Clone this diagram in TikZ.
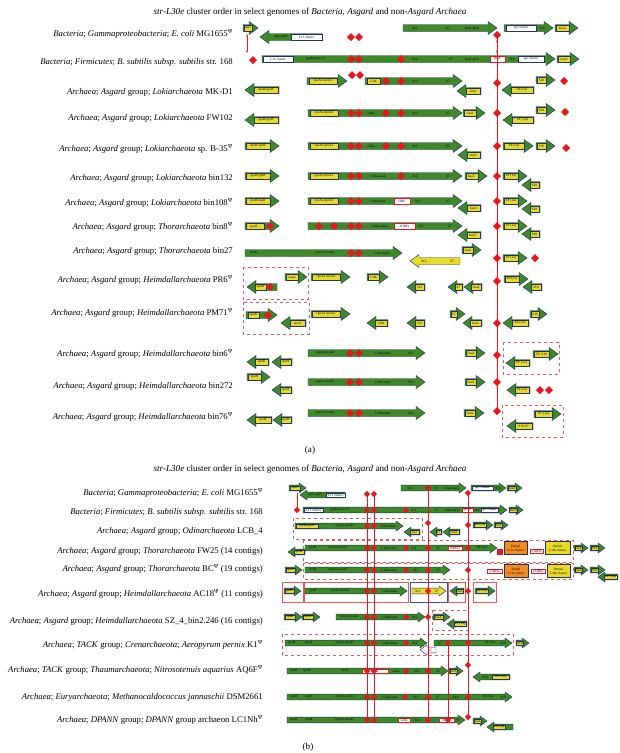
\documentclass[tikz,border=0pt]{standalone}
\usepackage{fontspec}
\setmainfont{Liberation Serif}
\usetikzlibrary{arrows.meta}
\definecolor{gg}{RGB}{62,138,38}
\definecolor{gedge}{RGB}{32,52,92}
\definecolor{gyel}{RGB}{232,218,40}
\definecolor{gred}{RGB}{232,22,30}
\definecolor{gdash}{RGB}{228,90,90}
\definecolor{gorange}{RGB}{242,140,30}
\definecolor{gblue}{RGB}{60,80,170}
\newcounter{nn}
\def\gbh{3.5}\def\ghh{6.5}\def\ghl{9}\def\gdd{4}\def\glh{5.5pt}
\newcommand\arR[4]{\filldraw[gene,fill=#4] (#1,#3-\gbh) -- (#2-\ghl,#3-\gbh) -- (#2-\ghl,#3-\ghh) -- (#2,#3) -- (#2-\ghl,#3+\ghh) -- (#2-\ghl,#3+\gbh) -- (#1,#3+\gbh) -- cycle;}
\newcommand\arL[4]{\filldraw[gene,fill=#4] (#2,#3-\gbh) -- (#1+\ghl,#3-\gbh) -- (#1+\ghl,#3-\ghh) -- (#1,#3) -- (#1+\ghl,#3+\ghh) -- (#1+\ghl,#3+\gbh) -- (#2,#3+\gbh) -- cycle;}
\newcommand\gyl[5][ylab]{\stepcounter{nn}\node[#1, minimum width={#3-#2}, minimum height=\glh] (t\arabic{nn}) at ({(#2+#3)/2},#4) {#5};}
\newcommand\gtx[3]{\stepcounter{nn}\node[glab] (t\arabic{nn}) at (#1,#2) {#3};}
\newcommand\gdm[2]{\fill[gred] (#1,#2-\gdd) -- (#1+\gdd,#2) -- (#1,#2+\gdd) -- (#1-\gdd,#2) -- cycle;}
\newcommand\gdb[4]{\draw[dbox] (#1,#2) rectangle (#3,#4);}
\newcommand\rowl[3]{\node[rowlab] (#1) at (\rx,#2) {#3};}
\newcommand\psimark{\textsuperscript{Ψ}}
\tikzset{
 gene/.style={draw=gedge,line width=0.45pt},
 glab/.style={font=\fontsize{3.4}{3.7}\selectfont, inner sep=0.3pt},
 ylab/.style={glab, fill=gyel, draw=gedge, line width=0.25pt},
 wlab/.style={glab, fill=white, draw=gedge, line width=0.25pt},
 rlab/.style={glab, fill=white, draw=gred, line width=0.5pt},
 olab/.style={glab, fill=gorange, draw=gedge, line width=0.25pt, align=center},
 y2lab/.style={glab, fill=gyel, draw=gedge, line width=0.25pt, align=center},
 rowlab/.style={anchor=east, font=\fontsize{8.7}{9.5}\selectfont, inner sep=0pt},
 ttl/.style={font=\fontsize{9.1}{10}\selectfont, inner sep=0pt},
 dbox/.style={draw=gdash, dashed, line width=0.7pt},
 sbox/.style={draw=gdash, line width=0.7pt},
 bbox/.style={draw=gblue, line width=0.7pt},
 redl/.style={draw=gred, line width=0.8pt},
 redt/.style={draw=gred, line width=0.7pt, {Stealth[length=2.5pt]}-{Stealth[length=2.5pt]}},
}
\begin{document}
\begin{tikzpicture}[x=1pt,y=-1pt]
\fill[white] (0,0) rectangle (620,753);
\useasboundingbox (0,0) rectangle (620,753);
% ================= PANEL A =================
\node[ttl] (titleA) at (310,12) {\textit{str-L30e} cluster order in select genomes of \textit{Bacteria, Asgard} and non-\textit{Asgard Archaea}};
\def\rx{233}
\rowl{a1}{34}{\textit{Bacteria}; \textit{Gammaproteobacteria}; \textit{E. coli} MG1655\psimark}
\rowl{a2}{62}{\textit{Bacteria}; \textit{Firmicutes}; \textit{B. subtilis subsp. subtilis} str. 168}
\rowl{a3}{92}{\textit{Archaea}; \textit{Asgard} group; \textit{Lokiarchaeota} MK-D1}
\rowl{a4}{118}{\textit{Archaea}; \textit{Asgard} group; \textit{Lokiarchaeota} FW102}
\rowl{a5}{149}{\textit{Archaea}; \textit{Asgard} group; \textit{Lokiarchaeota} sp. B-35\psimark}
\rowl{a6}{178}{\textit{Archaea}; \textit{Asgard} group; \textit{Lokiarchaeota} bin132}
\rowl{a7}{203}{\textit{Archaea}; \textit{Asgard} group; \textit{Lokiarchaeota} bin108\psimark}
\rowl{a8}{227}{\textit{Archaea}; \textit{Asgard} group; \textit{Thorarchaeota} bin8\psimark}
\rowl{a9}{251}{\textit{Archaea}; \textit{Asgard} group; \textit{Thorarchaeota} bin27}
\rowl{a10}{280}{\textit{Archaea}; \textit{Asgard} group; \textit{Heimdallarchaeota} PR6\psimark}
\rowl{a11}{313}{\textit{Archaea}; \textit{Asgard} group; \textit{Heimdallarchaeota} PM71\psimark}
\rowl{a12}{354}{\textit{Archaea}; \textit{Asgard} group; \textit{Heimdallarchaeota} bin6\psimark}
\rowl{a13}{386}{\textit{Archaea}; \textit{Asgard} group; \textit{Heimdallarchaeota} bin272}
\rowl{a14}{417}{\textit{Archaea}; \textit{Asgard} group; \textit{Heimdallarchaeota} bin76\psimark}
% dashed boxes
\gdb{243}{267}{308}{299}
\gdb{243}{302}{309}{334}
\gdb{503}{342}{559}{374}
\gdb{502}{405}{563}{437}
% row 1
\arR{243}{258}{28}{gg}\gyl{244}{252}{28}{rpsJ}
\arL{260}{322}{37}{gg}\gtx{281}{37}{rplC-rplB}\gyl[wlab]{291}{322}{37}{L11 cluster}
\arR{403}{497}{28}{gg}\gtx{415}{28}{S12}\gtx{448}{28}{S7}\gtx{472}{28}{fusA-tufA}
\arR{504}{553}{28}{gg}\gyl[wlab]{506}{536}{28}{spc cluster}\gtx{542}{28}{S10}
\arR{555}{578}{28}{gg}\gyl{556}{569}{28}{nusA}
% row 2
\arR{262}{555}{59}{gg}\gyl[wlab]{263}{293}{59}{L11 cluster}\gtx{316}{59}{rpoB-rpoC-L7}
\gtx{415}{59}{S12}\gtx{451}{59}{S7}\gtx{472}{59}{fusA-tufA}\gyl[rlab]{490}{505}{59}{ybxF}
\gtx{512}{59}{S10}\gyl[wlab]{518}{544}{59}{spc cluster}
\arR{557}{579}{59}{gg}\gyl{558}{570}{59}{nusA}
% row 3
\arL{245}{279}{90}{gg}\gyl{254}{278}{90}{rpoB-rpoH}
\arR{307}{347}{81}{gg}\gyl{309}{337}{81}{rpoA1-rpoA2}
\arR{365}{462}{81}{gg}\gyl{367}{380}{81}{L30e}\gtx{415}{81}{S12}\gtx{448}{81}{S7}
\arL{457}{481}{91}{gg}\gyl{466}{480}{91}{fusA}
\arL{502}{534}{90}{gg}\gyl{511}{533}{90}{EF (1a)}
\arR{536}{555}{80}{gg}\gyl{537}{546}{80}{S10}
% row 4
\arL{245}{279}{120}{gg}\gyl{254}{278}{120}{rpoB-rpoH}
\arR{308}{462}{113}{gg}\gyl{310}{338}{113}{rpoA1-rpoA2}\gtx{371}{113}{L30e}\gtx{415}{113}{S12}\gtx{448}{113}{S7}
\arR{463}{485}{113}{gg}\gyl{464}{476}{113}{fusA}
\arL{503}{534}{120}{gg}\gyl{512}{533}{120}{EF (1a)}
\arR{536}{555}{110}{gg}\gyl{537}{546}{110}{S10}
% row 5
\arR{245}{279}{146}{gg}\gyl{246}{270}{146}{rpoH-rpoB}
\arR{308}{462}{146}{gg}\gyl{310}{338}{146}{rpoA1-rpoA2}\gtx{371}{146}{L30e}\gtx{415}{146}{S12}\gtx{448}{146}{S7}
\arL{458}{481}{155}{gg}\gyl{467}{480}{155}{fusA}
\arR{503}{533}{146}{gg}\gyl{504}{524}{146}{EF (1a)}
\arR{536}{555}{146}{gg}\gyl{537}{546}{146}{S10}
% row 6
\arR{245}{279}{176}{gg}\gyl{246}{270}{176}{rpoH-rpoB}
\arR{308}{462}{176}{gg}\gyl{310}{338}{176}{rpoA1-rpoA2}\gtx{378}{176}{L30e-nusA}\gtx{415}{176}{S12}\gtx{448}{176}{S7}
\arR{465}{487}{176}{gg}\gyl{466}{478}{176}{fusA\textsuperscript{*}}
\arR{503}{527}{176}{gg}\gyl{504}{518}{176}{EF (1a)}
\arL{522}{540}{185}{gg}\gyl{530}{539}{185}{S10}
% row 7
\arR{245}{279}{201}{gg}\gyl{246}{270}{201}{rpoH-rpoB}
\arR{308}{462}{201}{gg}\gyl{310}{338}{201}{rpoA1-rpoA2}\gtx{378}{201}{L30e-nusA}\gyl[rlab]{394}{410}{201}{ORF}\gtx{418}{201}{S12}\gtx{448}{201}{S7}
\arL{458}{481}{208}{gg}\gyl{467}{480}{208}{fusA}
\arR{503}{527}{201}{gg}\gyl{504}{518}{201}{EF (1a)}
\arL{522}{540}{209}{gg}\gyl{530}{539}{209}{S10}
% row 8
\arR{245}{279}{226}{gg}\gyl{246}{264}{226}{rpoH\textsuperscript{*}-}
\arR{308}{462}{226}{gg}\gtx{380}{226}{L30e-nusA}\gyl[rlab]{394}{415}{226}{2ORFs}\gtx{421}{226}{S12}\gtx{450}{226}{S7}
\arL{458}{481}{235}{gg}\gyl{467}{480}{235}{fusA\textsuperscript{β}}
\arR{503}{527}{226}{gg}\gyl{504}{518}{226}{EF (1a)}
\arL{522}{540}{234}{gg}\gyl{530}{539}{234}{S10}
% row 9
\arR{245}{402}{253}{gg}\gtx{254}{253}{rpoB-}\gtx{325}{253}{rpoA1-rpoA2}\gtx{382}{253}{L30e-nusA}
\arL{410}{460}{261}{gyel}\gtx{424}{261}{S12}\gtx{452}{261}{S7}
\arR{462}{481}{250}{gg}\gyl{463}{473}{250}{fusA}
\arR{503}{527}{258}{gg}\gyl{504}{518}{258}{EF (1a)}
% row 10
\arR{285}{307}{277}{gg}\gyl{286}{298}{277}{nusA}
\arL{247}{277}{287}{gg}\gyl{255}{266}{287}{rpoB}
\arR{311}{350}{277}{gg}\gyl{312}{340}{277}{rpoA1-rpoA2}
\arR{367}{388}{277}{gg}\gyl{368}{379}{277}{L30e}
\arL{407}{425}{287}{gg}\gyl{415}{424}{287}{S12}
\arL{448}{463}{287}{gg}\gyl{455}{462}{287}{S7}
\arL{464}{482}{287}{gg}\gyl{471}{481}{287}{fusA}
\arR{504}{528}{279}{gg}\gyl{505}{519}{279}{EF (1a)}
\arL{523}{542}{287}{gg}\gyl{531}{541}{287}{S10}
% row 11
\arR{246}{277}{315}{gg}\gyl{248}{259}{315}{rpoB}
\arL{281}{306}{323}{gg}\gyl{290}{305}{323}{nusA}
\arR{311}{350}{314}{gg}\gyl{312}{340}{314}{rpoA1-rpoA2}
\arL{367}{388}{323}{gg}\gyl{375}{387}{323}{L30e}
\arL{407}{425}{323}{gg}\gyl{415}{424}{323}{S12}
\arR{450}{465}{314}{gg}\gyl{451}{457}{314}{S7}
\arL{463}{482}{323}{gg}\gyl{470}{481}{323}{fusA}
\arL{503}{529}{323}{gg}\gyl{512}{528}{323}{EF (1a)}
\arR{530}{547}{314}{gg}\gyl{531}{539}{314}{S10}
% row 12
\arL{247}{269}{362}{gg}\gyl{255}{268}{362}{rpoB}
\arL{272}{292}{362}{gg}\gyl{280}{291}{362}{rpoH}
\arR{308}{425}{353}{gg}\gtx{325}{353}{rpoA1-rpoA2}\gtx{383}{353}{L30e-nusA}\gtx{411}{353}{S12}
\arR{465}{485}{353}{gg}\gyl{466}{476}{353}{fusA}
\arL{506}{530}{363}{gg}\gyl{514}{529}{363}{EF (1a)}
\arR{533}{558}{354}{gg}\gyl{534}{549}{354}{EF-S10}
% row 13
\arR{247}{270}{377}{gg}\gyl{248}{261}{377}{rpoB}
\arL{272}{292}{390}{gg}\gyl{280}{291}{390}{rpoH}
\arR{308}{425}{382}{gg}\gtx{325}{382}{rpoA1-rpoA2}\gtx{383}{382}{L30e-nusA}\gtx{411}{382}{S12}
\arR{465}{485}{382}{gg}\gyl{466}{476}{382}{fusA}
\arL{507}{530}{390}{gg}\gyl{515}{529}{390}{EF (1a)}
% row 14
\arL{247}{272}{420}{gg}\gyl{255}{271}{420}{rpoB}
\arL{273}{292}{420}{gg}\gyl{281}{291}{420}{rpoH}
\arR{308}{425}{413}{gg}\gtx{325}{413}{rpoA1-rpoA2}\gtx{383}{413}{L30e-nusA}\gtx{411}{413}{S12}
\arR{464}{484}{413}{gg}\gyl{465}{475}{413}{fusA}
\arR{534}{561}{414}{gg}\gyl{535}{552}{414}{EF (1a)}
\arL{507}{533}{426}{gg}\gyl{515}{532}{426}{S10-S7}
% red lines panel A
\coordinate (ra) at (497,35); \coordinate (rb) at (497,411);
\draw[redl] (ra) -- (rb);
\coordinate (rta) at (497,40); \coordinate (rtb) at (497,53);
\draw[redt] (rta) -- (rtb);
\coordinate (rla) at (247,34); \coordinate (rlb) at (247,53);
\draw[redt] (rla) -- (rlb);
% diamonds panel A
\gdm{351}{37}\gdm{359}{37}\gdm{497}{35}
\gdm{253}{60}\gdm{351}{59}\gdm{359}{59}\gdm{401}{59}
\gdm{352}{75}\gdm{360}{75}\gdm{386}{81}\gdm{401}{81}\gdm{497}{83}\gdm{564}{81}
\gdm{351}{113}\gdm{359}{113}\gdm{386}{113}\gdm{401}{113}\gdm{497}{113}\gdm{565}{112}
\gdm{351}{146}\gdm{359}{146}\gdm{386}{146}\gdm{401}{146}\gdm{497}{146}\gdm{566}{148}
\gdm{351}{176}\gdm{359}{176}\gdm{401}{176}\gdm{497}{176}
\gdm{351}{201}\gdm{359}{201}\gdm{497}{201}
\gdm{270}{226}\gdm{319}{226}\gdm{334}{226}\gdm{351}{226}\gdm{359}{226}\gdm{497}{226}
\gdm{351}{253}\gdm{359}{253}\gdm{497}{258}\gdm{535}{258}
\gdm{270}{287}\gdm{497}{281}
\gdm{268}{315}\gdm{497}{323}
\gdm{350}{353}\gdm{359}{353}\gdm{497}{355}
\gdm{350}{382}\gdm{359}{382}\gdm{497}{382}\gdm{540}{390}\gdm{549}{390}
\gdm{350}{413}\gdm{359}{413}\gdm{497}{411}
\node[ttl] (capA) at (310,450) {(a)};
% ================= PANEL B =================
\def\gbh{2.8}\def\ghh{5}\def\ghl{7}\def\gdd{3.2}\def\glh{4.2pt}
\node[ttl] (titleB) at (310,469) {\textit{str-L30e} cluster order in select genomes of \textit{Bacteria, Asgard} and non-\textit{Asgard Archaea}};
\def\rx{263}
\rowl{b1}{493}{\textit{Bacteria}; \textit{Gammaproteobacteria}; \textit{E. coli} MG1655\psimark}
\rowl{b2}{512}{\textit{Bacteria}; \textit{Firmicutes}; \textit{B. subtilis subsp. subtilis} str. 168}
\rowl{b3}{531}{\textit{Archaea}; \textit{Asgard} group; \textit{Odinarchaeota} LCB\_4}
\rowl{b4}{551}{\textit{Archaea}; \textit{Asgard} group; \textit{Thorarchaeota} FW25 (14 contigs)}
\rowl{b5}{569}{\textit{Archaea}; \textit{Asgard} group; \textit{Thorarchaeota} BC\psimark{} (19 contigs)}
\rowl{b6}{594}{\textit{Archaea}; \textit{Asgard} group; \textit{Heimdallarchaeota} AC18\psimark{} (11 contigs)}
\rowl{b7}{621}{\textit{Archaea}; \textit{Asgard} group; \textit{Heimdallarchaeota} SZ\_4\_bin2.246 (16 contigs)}
\rowl{b8}{645}{\textit{Archaea}; \textit{TACK} group; \textit{Crenarchaeota}; \textit{Aeropyrum pernix} K1\psimark}
\rowl{b9}{670}{\textit{Archaea}; \textit{TACK} group; \textit{Thaumarchaeota}; \textit{Nitrosotenuis aquarius} AQ6F\psimark}
\rowl{b10}{697}{\textit{Archaea}; \textit{Euryarchaeota}; \textit{Methanocaldococcus jannaschii} DSM2661}
\rowl{b11}{720}{\textit{Archaea}; \textit{DPANN} group; \textit{DPANN} group archaeon LC1Nh\psimark}
% boxes
\gdb{293}{518}{422}{539}
\gdb{303}{540}{573}{562}
\gdb{303}{563}{573}{579}
\draw[sbox] (282,582) rectangle (303,602);
\draw[sbox] (304,582) rectangle (408,602);
\draw[bbox] (410,582) rectangle (447,602);
\draw[sbox] (448,582) rectangle (465,602);
\draw[sbox] (473,582) rectangle (496,602);
\gdb{432}{610}{468}{630}
\gdb{282}{634}{513}{655}
% row b1
\arR{289}{306}{488}{gg}\gyl{290}{300}{488}{rpsJ}
\arL{300}{345}{495}{gg}\gtx{315}{495}{rplC-rplB}\gyl[wlab]{326}{345}{495}{L11 cluster}
\arR{401}{466}{488}{gg}\gtx{410}{488}{S12}\gtx{437}{488}{S7}\gtx{452}{488}{fusA-tufA}
\arR{471}{506}{488}{gg}\gyl[wlab]{472}{493}{488}{spc cluster}\gtx{498}{488}{S10}
\arR{507}{522}{488}{gg}\gyl{508}{516}{488}{nusA}
% row b2
\arR{303}{507}{510}{gg}\gyl[wlab]{304}{323}{510}{L11 cluster}\gtx{340}{510}{rpoB-rpoC-L7}
\gtx{414}{510}{S12}\gtx{437}{510}{S7}\gtx{452}{510}{fusA-tufA}\gyl[rlab]{462}{473}{510}{ybxF}
\gtx{477}{510}{S10}\gyl[wlab]{481}{498}{510}{spc cluster}
\arR{509}{523}{510}{gg}\gyl{510}{517}{510}{nusA}
% row b3
\arR{295}{403}{526}{gg}\gyl{296}{318}{526}{rpoB-rpoH}\gtx{345}{526}{rpoA1-rpoA2}\gtx{388}{526}{L30e-nusA}
\arL{404}{420}{532}{gg}\gyl{410}{419}{532}{S12}
\arL{430}{442}{532}{gg}\gyl{436}{441}{532}{S7}
\arL{443}{460}{532}{gg}\gyl{449}{459}{532}{fusA}
\arR{473}{493}{525}{gg}\gyl{474}{486}{525}{EF (1a)}
\arR{494}{508}{525}{gg}\gyl{495}{502}{525}{S10}
% row b4
\arL{288}{305}{552}{gg}\gyl{294}{304}{552}{rpoB}
\arR{305}{497}{548}{gg}\gtx{313}{548}{rpoB}\gtx{338}{548}{rpoA1-rpoA2}\gtx{389}{548}{L30e-nusA}\gtx{414}{548}{S12}\gtx{438}{548}{S7}
\gyl[rlab]{448}{462}{548}{2ORFs}\gtx{482}{548}{EF (1a)}
\fill[gred] (497,549) rectangle (503,555);
\stepcounter{nn}\node[olab, minimum width=23pt, minimum height=13pt] (t\arabic{nn}) at (515.5,548) {Partial\\L11e cluster};
\gyl[rlab]{530}{543}{551}{x ORFs}
\stepcounter{nn}\node[y2lab, minimum width=25pt, minimum height=13pt] (t\arabic{nn}) at (557.5,548) {Partial\\L30e cluster};
\arR{574}{588}{548}{gg}\gyl{575}{582}{548}{fusA}
\arR{590}{605}{548}{gg}\gyl{591}{598}{548}{S10}
% row b5
\arR{285}{302}{570}{gg}\gyl{286}{295}{570}{rpoH}
\arR{305}{450}{570}{gg}\gtx{313}{570}{rpoB}\gtx{338}{570}{rpoA1-rpoA2}\gtx{389}{570}{L30e-nusA}\gtx{416}{570}{S12}\gtx{438}{570}{S7}
\gyl[rlab]{487}{502}{571}{x ORFs}
\stepcounter{nn}\node[olab, minimum width=24pt, minimum height=13pt] (t\arabic{nn}) at (516,571) {Partial\\L11e cluster};
\gyl[rlab]{531}{545}{571}{x ORFs}
\stepcounter{nn}\node[y2lab, minimum width=23pt, minimum height=13pt] (t\arabic{nn}) at (558.5,571) {Partial\\L30e cluster};
\arR{574}{588}{570}{gg}\gyl{575}{582}{570}{fusA}
\arR{590}{605}{570}{gg}\gyl{591}{598}{570}{S10}
\arL{598}{618}{577}{gg}\gyl{604}{617}{577}{EF (1a)}
% row b6
\arR{284}{301}{591}{gg}\gyl{285}{294}{591}{rpsB}
\arR{305}{407}{591}{gg}\gtx{313}{591}{rpoB}\gtx{340}{591}{rpoA1-rpoA2}\gtx{390}{591}{L30e-nusA}
\arR{412}{446}{591}{gyel}\gtx{418}{591}{S12}\gtx{437}{591}{S7}
\arL{450}{464}{591}{gg}\gyl{456}{463}{591}{fusA}
\arR{475}{495}{591}{gg}\gyl{476}{488}{591}{EF (1a)}
% row b7
\arR{284}{302}{617}{gg}\gyl{285}{295}{617}{rpsB}
\arR{302}{320}{617}{gg}\gyl{303}{313}{617}{rpoH}
\arR{336}{425}{617}{gg}\gtx{349}{617}{rpoA1-rpoA2}\gtx{390}{617}{L30e-nusA}\gtx{415}{617}{S12}
\arR{433}{450}{617}{gg}\gyl{434}{443}{617}{fusA}
\arL{447}{467}{624}{gg}\gyl{454}{466}{624}{EF (1a)}
% row b8
\arR{285}{427}{643}{gg}\gtx{292}{643}{rpoB}\gtx{309}{643}{rpoH}\gtx{345}{643}{rpoA1-rpoA2}\gtx{390}{643}{L30e-nusA}\gtx{415}{643}{S12}
\arR{434}{512}{643}{gg}\gtx{440}{643}{S7}\gtx{490}{643}{EF (1a)}\gtx{503}{643}{S10}
\arL{420}{436}{650}{white}\gtx{430}{650}{S7}
\arR{516}{529}{643}{gg}\gyl{517}{523}{643}{fusA}
% row b9
\arR{287}{448}{671}{gg}\gtx{294}{671}{rpoB}\gtx{307}{671}{rpoH}\gtx{345}{671}{rpoA}\gyl[rlab]{362}{388}{671}{L30e}\gtx{396}{671}{nusA}\gtx{417}{671}{S12}\gtx{438}{671}{S7}
\arR{449}{463}{671}{gg}\gyl{450}{457}{671}{fusA}
\arL{473}{510}{677}{gg}\gtx{485}{677}{S10}\gyl{492}{509}{677}{EF (1a)}
% row b10
\arR{287}{512}{697}{gg}\gtx{294}{697}{rpoB}\gtx{309}{697}{rpoH}\gtx{345}{697}{rpoA1-rpoA2}\gtx{390}{697}{L30e-nusA}\gtx{416}{697}{S12}\gtx{438}{697}{S7}\gtx{456}{697}{fusA}\gtx{488}{697}{EF (1a)}\gtx{503}{697}{S10}
% row b11
\arR{287}{465}{720}{gg}\gtx{294}{720}{rpoB}\gtx{309}{720}{rpoH}\gtx{345}{720}{rpoA1-rpoA2}\gyl[rlab]{398}{410}{720}{L30e}\gtx{417}{720}{S12}\gyl[rlab]{439}{454}{720}{ORF}\gtx{458}{720}{S7}
\arR{473}{487}{721}{gg}\gyl{474}{481}{721}{fusA}
\arL{487}{513}{727}{gg}\gyl{493}{505}{727}{EF (1a)}
% red lines panel B
\coordinate (p1a) at (297,493); \coordinate (p1b) at (297,510);
\draw[redl] (p1a) -- (p1b);
\coordinate (p2a) at (367,494); \coordinate (p2b) at (367,720);
\coordinate (p3a) at (374,494); \coordinate (p3b) at (374,720);
\coordinate (p4a) at (428,488); \coordinate (p4b) at (428,720);
\coordinate (p5a) at (468,493); \coordinate (p5b) at (468,717);
\coordinate (p6a) at (448,643); \coordinate (p6b) at (448,720);
\draw[redl] (p2a) -- (p2b); \draw[redl] (p3a) -- (p3b);
\draw[redl] (p4a) -- (p4b); \draw[redl] (p5a) -- (p5b); \draw[redl] (p6a) -- (p6b);
% diamonds panel B
\gdm{367}{494}\gdm{374}{494}\gdm{428}{488}\gdm{468}{493}
\gdm{297}{510}\gdm{367}{510}\gdm{374}{510}\gdm{406}{510}
\gdm{367}{526}\gdm{374}{526}\gdm{428}{523}\gdm{468}{525}
\gdm{367}{548}\gdm{374}{548}\gdm{406}{548}\gdm{428}{548}\gdm{468}{548}
\gdm{367}{570}\gdm{374}{570}\gdm{406}{570}\gdm{428}{570}\gdm{468}{570}
\gdm{367}{591}\gdm{374}{591}\gdm{428}{591}\gdm{468}{591}
\gdm{367}{617}\gdm{374}{617}\gdm{406}{617}\gdm{428}{617}
\gdm{367}{643}\gdm{374}{643}\gdm{406}{643}\gdm{448}{643}\gdm{468}{643}
\gdm{367}{671}\gdm{374}{671}\gdm{406}{671}\gdm{428}{671}\gdm{468}{665}
\gdm{367}{697}\gdm{374}{697}\gdm{405}{697}\gdm{428}{697}\gdm{468}{697}
\gdm{367}{720}\gdm{374}{720}\gdm{428}{720}\gdm{448}{720}\gdm{468}{717}
\node[ttl] (capB) at (308,747) {(b)};
\end{tikzpicture}
\end{document}
